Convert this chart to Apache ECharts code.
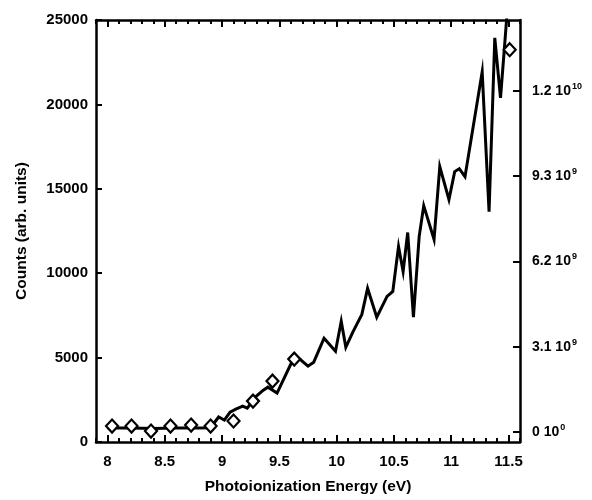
<!DOCTYPE html>
<html>
<head>
<meta charset="utf-8">
<title>Photoionization counts</title>
<script src="https://cdn.jsdelivr.net/npm/echarts@6.0.0/dist/echarts.min.js"></script>
<style>
  html, body { margin: 0; padding: 0; background: #fff; }
  #chart { width: 592px; height: 500px; }
</style>
</head>
<body>
<div id="chart"></div>
<script>
// measured counts (solid line, left axis)
var energy = [8.0, 8.2, 8.4, 8.6, 8.8, 8.9, 8.97, 9.02, 9.07, 9.12, 9.18, 9.22, 9.30, 9.36,
  9.40, 9.48, 9.62, 9.65, 9.75, 9.80, 9.89, 9.99, 10.04, 10.08, 10.14, 10.22, 10.27, 10.35,
  10.44, 10.49, 10.54, 10.58, 10.62, 10.67, 10.72, 10.76, 10.85, 10.90, 10.98, 11.03, 11.07,
  11.12, 11.27, 11.33, 11.38, 11.43, 11.50];
var counts = [830, 830, 800, 830, 830, 850, 1480, 1300, 1770, 1950, 2130, 2010, 2720, 3070,
  3250, 2900, 4900, 5080, 4490, 4730, 6150, 5380, 7150, 5610, 6500, 7560, 9100, 7390,
  8630, 8920, 11580, 10100, 12410, 7390, 12170, 14000, 12000, 16310, 14360, 16020, 16190,
  15720, 21930, 13650, 23940, 20390, 26500];

// diamonds (right axis)
var diamondEnergy = [8.04, 8.21, 8.38, 8.55, 8.73, 8.90, 9.10, 9.27, 9.44, 9.63, 11.51];
var diamondValue = [0.218e9, 0.218e9, 0.036e9, 0.218e9, 0.254e9, 0.218e9, 0.40e9, 1.124e9,
  1.85e9, 2.65e9, 13.89e9];

// tick labels
var xTicks = [8, 8.5, 9, 9.5, 10, 10.5, 11, 11.5];
var rightTicks = [0, 3.1e9, 6.2e9, 9.3e9, 12.4e9];
var rightMant = ['0', '3.1', '6.2', '9.3', '1.2'];
var rightExp = ['0', '9', '9', '9', '10'];

var minorTicks = [];
for (var i = 79; i <= 116; i++) minorTicks.push(i / 10);

var FONT = 'Liberation Sans, Arial, sans-serif';
var ink = '#000';

var lineData = energy.map(function (e, k) { return [e, counts[k]]; });
var diamondData = diamondEnergy.map(function (e, k) { return [e, diamondValue[k]]; });

function xAxisDef(pos, major) {
  return {
    type: 'value', position: pos, min: 7.9, max: 11.6,
    splitLine: { show: false },
    axisLine: { show: major, onZero: false, lineStyle: { color: ink, width: 2.5 } },
    axisTick: {
      show: true, inside: true, length: major ? 7 : 4,
      customValues: major ? xTicks : minorTicks,
      lineStyle: { color: ink, width: 2 }
    },
    axisLabel: {
      show: major && pos === 'bottom', customValues: xTicks, margin: 12,
      color: ink, fontFamily: FONT, fontWeight: 'bold', fontSize: 15
    },
    name: major && pos === 'bottom' ? 'Photoionization Energy (eV)' : '',
    nameLocation: 'middle', nameGap: 37,
    nameTextStyle: { color: ink, fontFamily: FONT, fontWeight: 'bold', fontSize: 15.5 }
  };
}

var chart = echarts.init(document.getElementById('chart'), null, { renderer: 'canvas' });
chart.setOption({
  animation: false,
  backgroundColor: '#fff',
  grid: { left: 96, right: 72, top: 20, bottom: 57 },
  xAxis: [xAxisDef('bottom', true), xAxisDef('top', true),
          xAxisDef('bottom', false), xAxisDef('top', false)],
  yAxis: [{
    type: 'value', position: 'left', min: 0, max: 25000, interval: 5000,
    splitLine: { show: false },
    axisLine: { show: true, onZero: false, lineStyle: { color: ink, width: 2.5 } },
    axisTick: { inside: true, length: 6, lineStyle: { color: ink, width: 2 } },
    axisLabel: { margin: 8, color: ink, fontFamily: FONT, fontWeight: 'bold', fontSize: 15,
      formatter: function (v) { return String(v); } },
    name: 'Counts (arb. units)', nameLocation: 'middle', nameGap: 66,
    nameTextStyle: { color: ink, fontFamily: FONT, fontWeight: 'bold', fontSize: 15.5 }
  }, {
    type: 'value', position: 'right', min: -0.363e9, max: 14.97e9,
    splitLine: { show: false },
    axisLine: { show: true, onZero: false, lineStyle: { color: ink, width: 2.5 } },
    axisTick: { inside: true, length: 7, customValues: rightTicks,
      lineStyle: { color: ink, width: 2 } },
    axisLabel: {
      customValues: rightTicks, margin: 12,
      formatter: function (v) {
        var k = 0;
        for (var j = 0; j < rightTicks.length; j++) {
          if (Math.abs(rightTicks[j] - v) < 1e6) k = j;
        }
        return '{m|' + rightMant[k] + ' 10}{e|' + rightExp[k] + '}';
      },
      rich: {
        m: { color: ink, fontFamily: FONT, fontWeight: 'bold', fontSize: 14 },
        e: { color: ink, fontFamily: FONT, fontWeight: 'bold', fontSize: 9,
             padding: [0, 0, 9, 1] }
      }
    }
  }],
  series: [{
    type: 'line', data: lineData, xAxisIndex: 0, yAxisIndex: 0,
    showSymbol: false, symbol: 'none', clip: true,
    lineStyle: { color: ink, width: 3, join: 'miter' }, z: 2
  }, {
    type: 'scatter', data: diamondData, xAxisIndex: 0, yAxisIndex: 1,
    symbol: 'diamond', symbolSize: [12, 13],
    itemStyle: { color: '#fff', opacity: 1, borderColor: ink, borderWidth: 2.2 }, z: 3
  }]
});
</script>
</body>
</html>
